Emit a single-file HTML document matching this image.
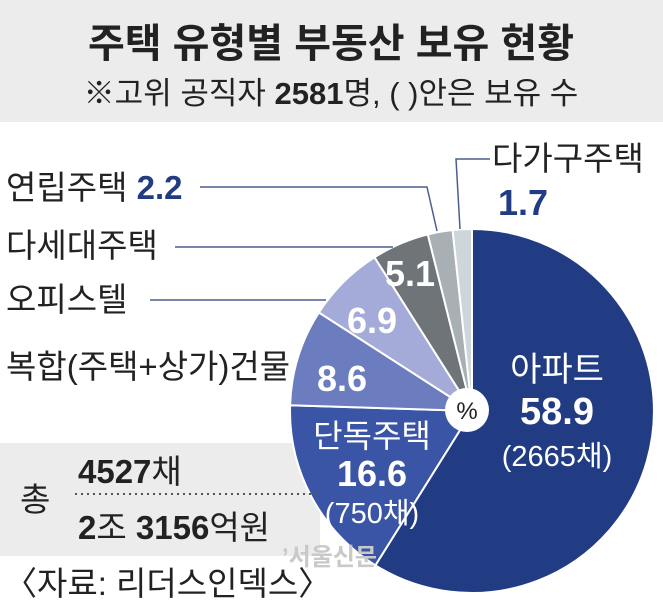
<!DOCTYPE html>
<html><head><meta charset="utf-8"><style>
html,body{margin:0;padding:0;background:#fff}
body{width:663px;height:604px;overflow:hidden;font-family:"Liberation Sans","Noto Sans CJK KR",sans-serif}
</style></head><body>
<svg width="663" height="604" viewBox="0 0 663 604" xmlns="http://www.w3.org/2000/svg" font-family="Liberation Sans, Noto Sans CJK KR, sans-serif">
<rect x="0" y="0" width="663" height="122" fill="#ececec"/>
<text x="331" y="57" text-anchor="middle" font-size="40" font-weight="bold" fill="#222">주택 유형별 부동산 보유 현황</text>
<text x="331" y="104" text-anchor="middle" font-size="31" fill="#222">※고위 공직자 <tspan font-weight="bold">2581</tspan>명, (   )안은 보유 수</text>
<rect x="0" y="443" width="320" height="113" fill="#ececec"/>
<g stroke="#fff" stroke-width="2">
<path d="M472,411 L472,229 A182,182 0 1 1 375.4,565.3 Z" fill="#223c83"/>
<path d="M472,411 L375.4,565.3 A182,182 0 0 1 290.1,405.3 Z" fill="#3b55a6"/>
<path d="M472,411 L290.1,405.3 A182,182 0 0 1 318.9,312.5 Z" fill="#6b7cbf"/>
<path d="M472,411 L318.9,312.5 A182,182 0 0 1 374.5,257.3 Z" fill="#a4abd8"/>
<path d="M472,411 L374.5,257.3 A182,182 0 0 1 427.8,234.4 Z" fill="#6f7479"/>
<path d="M472,411 L427.8,234.4 A182,182 0 0 1 452.6,230 Z" fill="#a8afb5"/>
<path d="M472,411 L452.6,230 A182,182 0 0 1 472,229 Z" fill="#cdd6da"/>
</g>
<circle cx="467" cy="410" r="22" fill="#fff"/>
<text x="467" y="419" text-anchor="middle" font-size="24" fill="#222">%</text>
<g fill="none" stroke="#4a5f8e" stroke-width="1.5">
<polyline points="200,187 427,187 437,231"/>
<polyline points="490,159 456,159 460,229"/>
<line x1="175" y1="247" x2="393" y2="247"/>
<line x1="150" y1="300" x2="326" y2="300"/>
</g>
<line x1="75" y1="494" x2="318" y2="494" stroke="#555" stroke-width="2" stroke-dasharray="2,4"/>
<g font-size="33" fill="#222">
<text x="6" y="199">연립주택 <tspan font-weight="bold" fill="#223c83">2.2</tspan></text>
<text x="6" y="257">다세대주택</text>
<text x="6" y="311">오피스텔</text>
<text x="6" y="378">복합(주택+상가)건물</text>
<text x="492" y="170">다가구주택</text>
<text x="498" y="215" font-weight="bold" fill="#223c83" font-size="36">1.7</text>
<text x="20" y="511">총</text>
<text x="78" y="483"><tspan font-weight="bold">4527</tspan>채</text>
<text x="78" y="539"><tspan font-weight="bold">2</tspan>조 <tspan font-weight="bold">3156</tspan>억원</text>
<text x="4" y="595">〈자료: 리더스인덱스〉</text>
</g>
<text x="282" y="565" font-size="24" font-weight="bold" fill="#c9c9c9">’서울신문</text>
<g fill="#fff" text-anchor="middle">
<text x="557" y="381" font-size="34">아파트</text>
<text x="557" y="424" font-size="38" font-weight="bold">58.9</text>
<text x="557" y="466" font-size="29">(2665채)</text>
<text x="372" y="447" font-size="32">단독주택</text>
<text x="372" y="486" font-size="36" font-weight="bold">16.6</text>
<text x="372" y="523" font-size="29">(750채)</text>
<text x="342" y="391" font-size="36" font-weight="bold">8.6</text>
<text x="372" y="333" font-size="36" font-weight="bold">6.9</text>
<text x="410" y="286" font-size="36" font-weight="bold">5.1</text>
</g>
</svg>
</body></html>
